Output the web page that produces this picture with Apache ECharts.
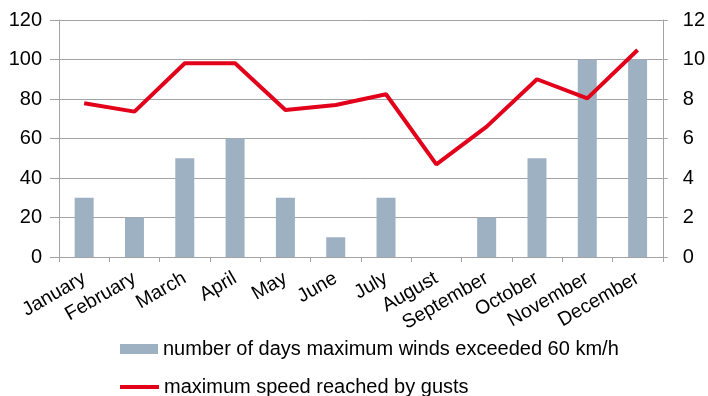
<!DOCTYPE html>
<html>
<head>
<meta charset="utf-8">
<script src="https://cdn.jsdelivr.net/npm/echarts@6/dist/echarts.min.js"></script>
<style>
html,body{margin:0;padding:0;background:#fff;}
#chart{width:708px;height:396px;}
</style>
</head>
<body>
<div id="chart"></div>
<script>
var months = ['January','February','March','April','May','June','July','August','September','October','November','December'];
var daysOver60 = [3, 2, 5, 6, 3, 1, 3, 0, 2, 5, 10, 10];
var maxGust = [77.8, 73.6, 98.1, 98.1, 74.4, 77.0, 82.4, 46.9, 66.0, 90.0, 80.3, 104.8];
var leftTicks = [0, 120, 20];
var rightTicks = [0, 12, 2];
var barName = 'number of days maximum winds exceeded 60 km/h';
var lineName = 'maximum speed reached by gusts';

var FONT = 'Liberation Sans';
var axisGrey = '#a3a3a3';
var chart = echarts.init(document.getElementById('chart'), null, {renderer: 'canvas'});
chart.setOption({
  animation: false,
  backgroundColor: '#ffffff',
  textStyle: {fontFamily: FONT},
  grid: {left: 59, right: 43, top: 20, bottom: 139, containLabel: false},
  legend: [
    {
      data: [barName], orient: 'vertical', left: 120, top: 339, padding: 0,
      itemWidth: 38, itemHeight: 10, itemGap: 5, icon: 'rect',
      textStyle: {fontSize: 20, color: '#000', fontFamily: FONT}
    },
    {
      data: [lineName], orient: 'vertical', left: 120, top: 377, padding: 0,
      itemWidth: 39, itemHeight: 4, itemGap: 5, icon: 'rect',
      textStyle: {fontSize: 20, color: '#000', fontFamily: FONT}
    }
  ],
  xAxis: {
    type: 'category', data: months,
    axisLine: {lineStyle: {color: axisGrey, width: 1}},
    axisTick: {show: true, length: 5, lineStyle: {color: axisGrey}},
    axisLabel: {rotate: 30, fontSize: 19.5, color: '#000', margin: 20, fontFamily: FONT, interval: 0},
    splitLine: {show: false}
  },
  yAxis: [
    {
      type: 'value', min: leftTicks[0], max: leftTicks[1], interval: leftTicks[2], position: 'left',
      axisLine: {show: true, lineStyle: {color: axisGrey}},
      axisTick: {show: true, length: 9, lineStyle: {color: axisGrey}},
      axisLabel: {fontSize: 20, color: '#000', margin: 17, fontFamily: FONT},
      splitLine: {show: true, lineStyle: {color: axisGrey, width: 1}}
    },
    {
      type: 'value', min: rightTicks[0], max: rightTicks[1], interval: rightTicks[2], position: 'right',
      axisLine: {show: true, lineStyle: {color: axisGrey}},
      axisTick: {show: true, length: 5, lineStyle: {color: axisGrey}},
      axisLabel: {fontSize: 20, color: '#000', margin: 20, fontFamily: FONT},
      splitLine: {show: false}
    }
  ],
  series: [
    {
      name: barName, type: 'bar', yAxisIndex: 1, data: daysOver60,
      barWidth: 19, itemStyle: {color: '#9eb1c3'}
    },
    {
      name: lineName, type: 'line', yAxisIndex: 0, data: maxGust,
      symbol: 'none', lineStyle: {color: '#e2001a', width: 4}, itemStyle: {color: '#e2001a'},
      z: 5
    }
  ]
});
</script>
</body>
</html>
